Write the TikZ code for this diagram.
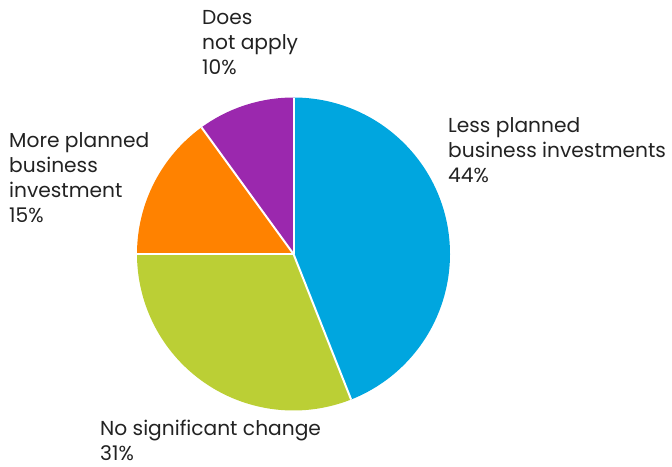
\documentclass[tikz,border=0pt]{standalone}
\usepackage{fontspec}
\setmainfont{Poppins}
\definecolor{pblue}{HTML}{00A6DF}
\definecolor{pgreen}{HTML}{BBCF35}
\definecolor{porange}{HTML}{FF8200}
\definecolor{ppurple}{HTML}{9B28AE}
\definecolor{ptext}{HTML}{222222}
\begin{document}
\begin{tikzpicture}[x=1pt,y=-1pt,
  slice/.style={draw=white,line width=2pt,line join=round},
  lbl/.style={anchor=base west,align=left,inner sep=0pt,text=ptext,
    font=\fontsize{20.2}{24.8}\selectfont}]
\useasboundingbox (0,0) rectangle (672,466);
\coordinate (c) at (293.5,254);
\def\r{156.5}
\fill[pblue]   (c) -- ++(-90:\r) arc[start angle=-90,end angle=68.4,radius=\r] -- cycle;
\fill[pgreen]  (c) -- ++(68.4:\r) arc[start angle=68.4,end angle=180,radius=\r] -- cycle;
\fill[porange] (c) -- ++(180:\r) arc[start angle=180,end angle=234,radius=\r] -- cycle;
\fill[ppurple] (c) -- ++(234:\r) arc[start angle=234,end angle=270,radius=\r] -- cycle;
\draw[slice] (c) -- ++(-90:\r);
\draw[slice] (c) -- ++(68.4:\r);
\draw[slice] (c) -- ++(180:\r);
\draw[slice] (c) -- ++(234:\r);
\node[lbl] (dna) at (202,74) {Does\\not apply\\10\%};
\node[lbl] (more) at (9,222) {More planned\\business\\investment\\15\%};
\node[lbl] (less) at (448,182) {Less planned\\business investments\\44\%};
\node[lbl] (nsc) at (100,460) {No significant change\\31\%};
\end{tikzpicture}
\end{document}
